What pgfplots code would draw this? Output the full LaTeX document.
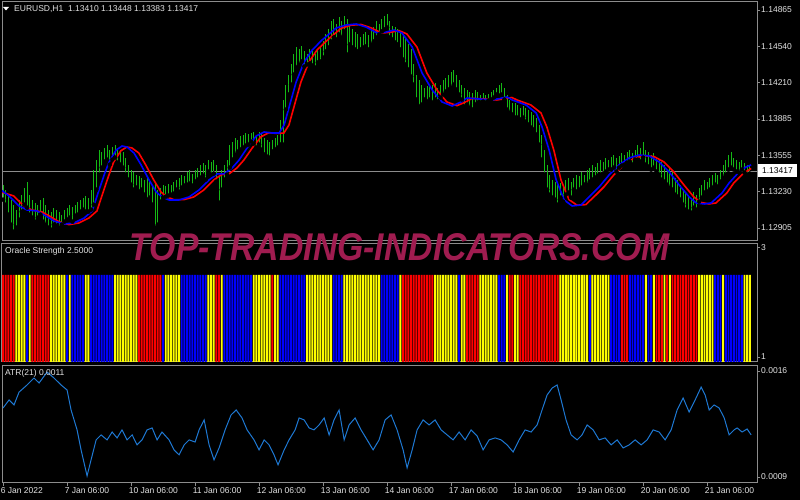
\documentclass[border=0pt]{standalone}
\usepackage{fontspec}
\setmainfont{Liberation Sans}
\usepackage{pgfplots}
\usepackage{pgfplotstable}
\pgfplotsset{compat=1.18}

\definecolor{mtgray}{RGB}{140,140,140}
\definecolor{mttext}{RGB}{228,228,228}
\definecolor{mtgreen}{RGB}{20,185,20}
\definecolor{mtred}{RGB}{255,0,0}
\definecolor{mtblue}{RGB}{0,0,255}
\definecolor{mtyellow}{RGB}{255,255,0}
\definecolor{atrblue}{RGB}{30,120,210}
\definecolor{wmark}{RGB}{160,28,80}

% EURUSD H1 bars: index, low, high
\pgfplotstableread{
i lo hi
0 1.13160 1.13295
1 1.13115 1.13250
2 1.13025 1.13205
3 1.12935 1.13160
4 1.12872 1.13115
5 1.12908 1.13070
6 1.12980 1.13160
7 1.13052 1.13205
8 1.13115 1.13268
9 1.13088 1.13322
10 1.13025 1.13205
11 1.12998 1.13160
12 1.12962 1.13133
13 1.12998 1.13115
14 1.13025 1.13160
15 1.12962 1.13178
16 1.12935 1.13115
17 1.12908 1.13070
18 1.12890 1.13052
19 1.12935 1.13088
20 1.12926 1.13070
21 1.12908 1.13052
22 1.12935 1.13025
23 1.12962 1.13070
24 1.12980 1.13088
25 1.12998 1.13115
26 1.12962 1.13097
27 1.13016 1.13115
28 1.13025 1.13142
29 1.13052 1.13160
30 1.13070 1.13178
31 1.13052 1.13196
32 1.13052 1.13178
33 1.13070 1.13250
34 1.13115 1.13430
35 1.13250 1.13520
36 1.13385 1.13610
37 1.13448 1.13592
38 1.13502 1.13628
39 1.13520 1.13655
40 1.13475 1.13610
41 1.13520 1.13637
42 1.13538 1.13655
43 1.13493 1.13628
44 1.13475 1.13610
45 1.13448 1.13592
46 1.13385 1.13538
47 1.13340 1.13475
48 1.13295 1.13430
49 1.13250 1.13412
50 1.13268 1.13385
51 1.13232 1.13376
52 1.13250 1.13358
53 1.13205 1.13340
54 1.13160 1.13358
55 1.13178 1.13322
56 1.13115 1.13295
57 1.12908 1.13313
58 1.12935 1.13250
59 1.13142 1.13268
60 1.13178 1.13295
61 1.13187 1.13286
62 1.13196 1.13304
63 1.13205 1.13295
64 1.13214 1.13322
65 1.13250 1.13340
66 1.13232 1.13358
67 1.13268 1.13385
68 1.13286 1.13376
69 1.13295 1.13412
70 1.13304 1.13430
71 1.13286 1.13394
72 1.13322 1.13430
73 1.13340 1.13448
74 1.13358 1.13475
75 1.13376 1.13493
76 1.13340 1.13475
77 1.13412 1.13520
78 1.13385 1.13502
79 1.13394 1.13520
80 1.13322 1.13475
81 1.13133 1.13385
82 1.13250 1.13430
83 1.13340 1.13475
84 1.13385 1.13520
85 1.13448 1.13655
86 1.13520 1.13682
87 1.13565 1.13718
88 1.13592 1.13700
89 1.13610 1.13736
90 1.13628 1.13745
91 1.13646 1.13763
92 1.13655 1.13754
93 1.13682 1.13763
94 1.13664 1.13772
95 1.13628 1.13745
96 1.13655 1.13772
97 1.13610 1.13754
98 1.13565 1.13718
99 1.13547 1.13700
100 1.13538 1.13682
101 1.13592 1.13700
102 1.13610 1.13718
103 1.13628 1.13745
104 1.13655 1.13880
105 1.13655 1.14060
106 1.13970 1.14195
107 1.14105 1.14285
108 1.14195 1.14375
109 1.14285 1.14465
110 1.14348 1.14528
111 1.14375 1.14510
112 1.14402 1.14537
113 1.14357 1.14492
114 1.14375 1.14465
115 1.14384 1.14510
116 1.14366 1.14492
117 1.14348 1.14465
118 1.14393 1.14510
119 1.14402 1.14528
120 1.14438 1.14582
121 1.14492 1.14645
122 1.14528 1.14690
123 1.14582 1.14762
124 1.14618 1.14780
125 1.14600 1.14735
126 1.14645 1.14798
127 1.14618 1.14762
128 1.14672 1.14807
129 1.14465 1.14780
130 1.14555 1.14735
131 1.14528 1.14690
132 1.14510 1.14663
133 1.14492 1.14645
134 1.14510 1.14618
135 1.14528 1.14645
136 1.14537 1.14663
137 1.14510 1.14636
138 1.14555 1.14672
139 1.14582 1.14708
140 1.14618 1.14762
141 1.14645 1.14735
142 1.14672 1.14780
143 1.14690 1.14807
144 1.14708 1.14825
145 1.14618 1.14762
146 1.14600 1.14717
147 1.14573 1.14708
148 1.14555 1.14690
149 1.14510 1.14663
150 1.14420 1.14636
151 1.14375 1.14600
152 1.14330 1.14555
153 1.14267 1.14510
154 1.14195 1.14375
155 1.14060 1.14285
156 1.13997 1.14240
157 1.14015 1.14195
158 1.14060 1.14168
159 1.14042 1.14186
160 1.14060 1.14177
161 1.14033 1.14195
162 1.14060 1.14213
163 1.14042 1.14168
164 1.14078 1.14195
165 1.14105 1.14240
166 1.14132 1.14258
167 1.14150 1.14285
168 1.14168 1.14312
169 1.14195 1.14330
170 1.14150 1.14285
171 1.14105 1.14240
172 1.14060 1.14195
173 1.13997 1.14168
174 1.14015 1.14150
175 1.13988 1.14132
176 1.13970 1.14123
177 1.14015 1.14150
178 1.14033 1.14132
179 1.14033 1.14105
180 1.14042 1.14123
181 1.14033 1.14105
182 1.14051 1.14114
183 1.14060 1.14132
184 1.14078 1.14150
185 1.14105 1.14168
186 1.14096 1.14195
187 1.14105 1.14213
188 1.14060 1.14168
189 1.13970 1.14105
190 1.13943 1.14060
191 1.13925 1.14033
192 1.13898 1.14033
193 1.13898 1.14015
194 1.13880 1.13988
195 1.13898 1.14006
196 1.13862 1.13988
197 1.13835 1.13970
198 1.13808 1.13952
199 1.13790 1.13925
200 1.13745 1.13898
201 1.13655 1.13835
202 1.13520 1.13745
203 1.13385 1.13610
204 1.13250 1.13475
205 1.13205 1.13385
206 1.13178 1.13340
207 1.13160 1.13322
208 1.13115 1.13295
209 1.13178 1.13313
210 1.13142 1.13295
211 1.13205 1.13340
212 1.13223 1.13358
213 1.13178 1.13322
214 1.13250 1.13358
215 1.13232 1.13385
216 1.13250 1.13376
217 1.13268 1.13412
218 1.13295 1.13385
219 1.13295 1.13430
220 1.13322 1.13448
221 1.13340 1.13475
222 1.13358 1.13457
223 1.13376 1.13493
224 1.13385 1.13520
225 1.13394 1.13502
226 1.13412 1.13538
227 1.13430 1.13520
228 1.13430 1.13547
229 1.13448 1.13565
230 1.13412 1.13538
231 1.13448 1.13556
232 1.13466 1.13583
233 1.13475 1.13565
234 1.13493 1.13592
235 1.13502 1.13610
236 1.13475 1.13583
237 1.13520 1.13610
238 1.13520 1.13655
239 1.13502 1.13628
240 1.13538 1.13682
241 1.13475 1.13610
242 1.13457 1.13592
243 1.13430 1.13565
244 1.13448 1.13583
245 1.13412 1.13538
246 1.13385 1.13520
247 1.13340 1.13502
248 1.13322 1.13475
249 1.13295 1.13430
250 1.13268 1.13448
251 1.13250 1.13412
252 1.13205 1.13358
253 1.13187 1.13340
254 1.13160 1.13295
255 1.13115 1.13250
256 1.13070 1.13223
257 1.13052 1.13205
258 1.13043 1.13178
259 1.13088 1.13232
260 1.13070 1.13205
261 1.13142 1.13268
262 1.13178 1.13295
263 1.13223 1.13340
264 1.13232 1.13322
265 1.13250 1.13358
266 1.13268 1.13385
267 1.13295 1.13403
268 1.13277 1.13385
269 1.13322 1.13430
270 1.13358 1.13475
271 1.13385 1.13520
272 1.13430 1.13565
273 1.13448 1.13592
274 1.13430 1.13538
275 1.13412 1.13520
276 1.13403 1.13502
277 1.13430 1.13520
278 1.13403 1.13493
279 1.13385 1.13475
280 1.13394 1.13466
}\pricebars

\pgfplotsset{
  mtpanel/.style={
    scale only axis, width=755pt,
    xmin=-0.4, xmax=282.7,
    anchor=south west,
    axis line style={mtgray, line width=1pt},
    ticklabel style={mttext, font=\fontsize{8.5}{10}\selectfont},
    ytick pos=right, yticklabel pos=right,
    yticklabel style={anchor=west, inner sep=1pt},
    tick align=outside, major tick length=3pt,
    tick style={mtgray, line width=0.8pt},
    xtick=\empty, scaled y ticks=false,
  },
}

\begin{document}
\begin{tikzpicture}
\fill[black] (0pt,0pt) rectangle (800pt,500pt);
\useasboundingbox (0pt,0pt) rectangle (800pt,500pt);

% ---- price panel
\begin{axis}[mtpanel, at={(2pt,259pt)}, height=239pt,
    ymin=1.12788, ymax=1.14937,
    ytick={1.12905,1.13230,1.13555,1.13885,1.14210,1.14540,1.14865},
    yticklabels={1.12905,1.13230,1.13555,1.13885,1.14210,1.14540,1.14865}]
\addplot[mtgray, line width=0.8pt] coordinates {(-0.4,1.13417) (282.7,1.13417)};
\addplot[only marks, mark=none,
    error bars/.cd, y dir=plus, y explicit, error mark=none,
    error bar style={draw=mtgreen, line width=1pt}]
  table[x=i, y=lo, y error expr=\thisrow{hi}-\thisrow{lo}] {\pricebars};
\addplot[mtred, line width=1.6pt] coordinates {
(-0.75,1.13229) (4,1.13193) (7.8,1.13103) (10.8,1.13067) (14.5,1.13050) (17.2,1.13015)
(20.9,1.12962) (24.7,1.12935) (28.4,1.12950) (32.2,1.12995) (35.2,1.13058) (37.8,1.13247)
(39.7,1.13382) (41.5,1.13499) (44.2,1.13600) (46.4,1.13633) (48.3,1.13625) (50.9,1.13579)
(53.5,1.13472) (56.5,1.13337) (59.2,1.13229) (61.4,1.13184) (64,1.13160) (67.8,1.13160)
(71.5,1.13184) (75.3,1.13247) (79,1.13337) (82,1.13385) (84.7,1.13391) (87.7,1.13445)
(90.3,1.13516) (93.3,1.13620) (96.7,1.13725) (99.7,1.13762) (102.7,1.13755) (105.3,1.13759)
(107.2,1.13831) (109.8,1.14056) (111.7,1.14218) (114.7,1.14398) (117.7,1.14505) (121.4,1.14590)
(126.7,1.14700) (130.4,1.14728) (134.2,1.14735) (137.9,1.14705) (142,1.14658) (145.4,1.14665)
(148.4,1.14680) (151.4,1.14650) (155.2,1.14532) (158.9,1.14299) (162.7,1.14146) (166.4,1.14038)
(170.2,1.14005) (173.5,1.14038) (175.8,1.14070) (180.3,1.14065) (185.2,1.14056) (190.8,1.14078)
(192.7,1.14056) (197.9,1.14011) (201.7,1.13939) (203.9,1.13813) (206.5,1.13606) (209.2,1.13337)
(212.2,1.13160) (215.2,1.13110) (218.5,1.13115) (222.3,1.13202) (225.3,1.13274) (229,1.13382)
(232.8,1.13472) (236.5,1.13530) (240.3,1.13555) (244,1.13548) (247.8,1.13499) (251.5,1.13409)
(255.3,1.13292) (259,1.13184) (261.7,1.13135) (264.7,1.13121) (267.3,1.13130) (271.4,1.13220)
(274,1.13310) (277.8,1.13400) (280.5,1.13440)
};
\addplot[mtblue, line width=1.6pt] coordinates {
(-0.75,1.13247) (2.25,1.13193) (6,1.13103) (9,1.13067) (12.75,1.13058) (15.4,1.13022)
(19.1,1.12968) (22.9,1.12941) (26.6,1.12950) (30.4,1.12995) (33.4,1.13058) (36,1.13247)
(37.9,1.13382) (39.75,1.13499) (42.4,1.13606) (44.6,1.13642) (46.5,1.13633) (49.1,1.13579)
(51.75,1.13472) (54.75,1.13337) (57.4,1.13229) (59.6,1.13184) (62.25,1.13157) (66,1.13157)
(69.75,1.13184) (73.5,1.13247) (77.25,1.13337) (80.25,1.13391) (82.9,1.13391) (85.9,1.13445)
(88.5,1.13516) (91.5,1.13624) (94.9,1.13732) (97.9,1.13768) (100.9,1.13759) (103.5,1.13759)
(105.4,1.13831) (108,1.14056) (109.9,1.14218) (112.9,1.14398) (115.9,1.14505) (119.6,1.14595)
(124.9,1.14703) (128.6,1.14730) (132.4,1.14739) (136.1,1.14712) (140.25,1.14658) (143.6,1.14667)
(146.6,1.14685) (149.6,1.14658) (153.4,1.14532) (157.1,1.14299) (160.9,1.14146) (164.6,1.14038)
(168.4,1.14002) (171.75,1.14038) (174,1.14074) (178.5,1.14065) (183.4,1.14056) (189,1.14083)
(190.9,1.14056) (196.1,1.14011) (199.9,1.13939) (202.1,1.13813) (204.75,1.13606) (207.4,1.13337)
(210.4,1.13157) (213.4,1.13103) (216.75,1.13112) (220.5,1.13202) (223.5,1.13274) (227.25,1.13382)
(231,1.13472) (234.75,1.13535) (238.5,1.13561) (242.25,1.13553) (246,1.13499) (249.75,1.13409)
(253.5,1.13292) (257.25,1.13184) (259.9,1.13130) (262.9,1.13121) (265.5,1.13130) (269.6,1.13220)
(272.25,1.13310) (276,1.13409) (278.6,1.13454) (280.5,1.13472)
};
\end{axis}

% ---- Oracle Strength histogram
\begin{axis}[mtpanel, at={(2pt,138pt)}, height=118.5pt,
    ymin=0.91, ymax=3.07, ytick={1,3}, yticklabels={1,3}]
\addplot[ybar, bar width=0.72, bar shift=0pt, fill=mtred, draw=none] coordinates {
(0,2.5) (1,2.5) (2,2.5) (3,2.5) (4,2.5) (11,2.5) (12,2.5) (13,2.5) (14,2.5) (15,2.5) (16,2.5)
(17,2.5) (51,2.5) (52,2.5) (53,2.5) (54,2.5) (55,2.5) (56,2.5) (57,2.5) (58,2.5) (59,2.5)
(80,2.5) (81,2.5) (101,2.5) (150,2.5) (151,2.5) (152,2.5) (153,2.5) (154,2.5) (155,2.5)
(156,2.5) (157,2.5) (158,2.5) (159,2.5) (160,2.5) (161,2.5) (174,2.5) (175,2.5) (176,2.5)
(177,2.5) (178,2.5) (190,2.5) (191,2.5) (194,2.5) (195,2.5) (196,2.5) (197,2.5) (198,2.5)
(199,2.5) (200,2.5) (201,2.5) (202,2.5) (203,2.5) (204,2.5) (205,2.5) (206,2.5) (207,2.5)
(208,2.5) (232,2.5) (233,2.5) (234,2.5) (245,2.5) (246,2.5) (247,2.5) (249,2.5) (251,2.5)
(252,2.5) (253,2.5) (254,2.5) (255,2.5) (256,2.5) (257,2.5) (258,2.5) (259,2.5) (260,2.5)
};
\addplot[ybar, bar width=0.72, bar shift=0pt, fill=mtyellow, draw=none] coordinates {
(5,2.5) (6,2.5) (7,2.5) (8,2.5) (10,2.5) (18,2.5) (19,2.5) (20,2.5) (21,2.5) (22,2.5) (23,2.5)
(25,2.5) (31,2.5) (32,2.5) (42,2.5) (43,2.5) (44,2.5) (45,2.5) (46,2.5) (47,2.5) (48,2.5)
(49,2.5) (50,2.5) (61,2.5) (62,2.5) (63,2.5) (64,2.5) (65,2.5) (66,2.5) (77,2.5) (78,2.5)
(79,2.5) (82,2.5) (94,2.5) (95,2.5) (96,2.5) (97,2.5) (98,2.5) (99,2.5) (100,2.5) (102,2.5)
(103,2.5) (114,2.5) (115,2.5) (116,2.5) (117,2.5) (118,2.5) (119,2.5) (120,2.5) (121,2.5)
(122,2.5) (123,2.5) (128,2.5) (129,2.5) (130,2.5) (131,2.5) (132,2.5) (133,2.5) (134,2.5)
(135,2.5) (136,2.5) (137,2.5) (138,2.5) (139,2.5) (140,2.5) (141,2.5) (149,2.5) (162,2.5)
(163,2.5) (164,2.5) (165,2.5) (166,2.5) (167,2.5) (168,2.5) (169,2.5) (170,2.5) (172,2.5)
(173,2.5) (179,2.5) (180,2.5) (181,2.5) (182,2.5) (183,2.5) (184,2.5) (185,2.5) (189,2.5)
(192,2.5) (193,2.5) (209,2.5) (210,2.5) (211,2.5) (212,2.5) (213,2.5) (214,2.5) (215,2.5)
(216,2.5) (217,2.5) (218,2.5) (219,2.5) (221,2.5) (222,2.5) (223,2.5) (224,2.5) (225,2.5)
(226,2.5) (227,2.5) (241,2.5) (244,2.5) (248,2.5) (250,2.5) (261,2.5) (262,2.5) (263,2.5)
(264,2.5) (265,2.5) (266,2.5) (270,2.5) (278,2.5) (279,2.5) (280,2.5)
};
\addplot[ybar, bar width=0.72, bar shift=0pt, fill=mtblue, draw=none] coordinates {
(9,2.5) (24,2.5) (26,2.5) (27,2.5) (28,2.5) (29,2.5) (30,2.5) (33,2.5) (34,2.5) (35,2.5)
(36,2.5) (37,2.5) (38,2.5) (39,2.5) (40,2.5) (41,2.5) (60,2.5) (67,2.5) (68,2.5) (69,2.5)
(70,2.5) (71,2.5) (72,2.5) (73,2.5) (74,2.5) (75,2.5) (76,2.5) (83,2.5) (84,2.5) (85,2.5)
(86,2.5) (87,2.5) (88,2.5) (89,2.5) (90,2.5) (91,2.5) (92,2.5) (93,2.5) (104,2.5) (105,2.5)
(106,2.5) (107,2.5) (108,2.5) (109,2.5) (110,2.5) (111,2.5) (112,2.5) (113,2.5) (124,2.5)
(125,2.5) (126,2.5) (127,2.5) (142,2.5) (143,2.5) (144,2.5) (145,2.5) (146,2.5) (147,2.5)
(148,2.5) (171,2.5) (186,2.5) (187,2.5) (188,2.5) (220,2.5) (228,2.5) (229,2.5) (230,2.5)
(231,2.5) (235,2.5) (236,2.5) (237,2.5) (238,2.5) (239,2.5) (240,2.5) (242,2.5) (243,2.5)
(267,2.5) (268,2.5) (269,2.5) (271,2.5) (272,2.5) (273,2.5) (274,2.5) (275,2.5) (276,2.5)
(277,2.5)
};
\end{axis}

% ---- ATR(21)
\begin{axis}[mtpanel, at={(2pt,17pt)}, height=118pt,
    ymin=0.00086, ymax=0.00164,
    ytick={0.0009,0.0016}, yticklabels={0.0009,0.0016},
    xtick={0,24,48,72,96,120,144,168,192,216,240,264},
    xticklabels={6 Jan 2022,7 Jan 06:00,10 Jan 06:00,11 Jan 06:00,12 Jan 06:00,13 Jan 06:00,
      14 Jan 06:00,17 Jan 06:00,18 Jan 06:00,19 Jan 06:00,20 Jan 06:00,21 Jan 06:00},
    xtick pos=bottom,
    xticklabel style={anchor=north west, xshift=-3.5pt, inner sep=1pt}]
\addplot[atrblue, line width=1pt] coordinates {
(0,0.001356) (2.25,0.001409) (4.1,0.001376) (6,0.001461) (9,0.001508) (11.6,0.001554)
(13.5,0.001521) (16.5,0.001593) (19.1,0.001554) (21.75,0.001508) (24,0.001475) (25.5,0.001343)
(27.75,0.001211) (29.25,0.001079) (31.5,0.000907) (33,0.001013) (34.9,0.001145) (36.75,0.001178)
(39,0.001145) (40.9,0.001197) (42.75,0.001158) (44.6,0.001211) (46.5,0.001145) (48.4,0.001178)
(50.25,0.001112) (52.1,0.001145) (54,0.001211) (55.9,0.001224) (57.75,0.001145) (59.6,0.001197)
(62.25,0.001145) (64.1,0.001079) (66,0.001046) (67.9,0.001112) (69.75,0.001145) (72,0.001131)
(73.5,0.001211) (75.4,0.001277) (77.25,0.001112) (79.1,0.001013) (81,0.001092) (83.25,0.001211)
(85.5,0.001310) (87.4,0.001343) (89.6,0.001290) (91.5,0.001211) (94.1,0.001145) (96,0.001079)
(97.9,0.001145) (99.75,0.001112) (101.6,0.001046) (103.1,0.000980) (105.4,0.001079) (107.25,0.001145)
(109.5,0.001211) (111,0.001290) (112.9,0.001277) (114.75,0.001224) (116.6,0.001211) (118.5,0.001244)
(120.4,0.001290) (122.25,0.001178) (124.1,0.001277) (126,0.001343) (127.9,0.001145) (129.75,0.001244)
(132,0.001290) (134.25,0.001211) (136.5,0.001145) (138.75,0.001079) (141,0.001145) (143.25,0.001277)
(145.5,0.001310) (147.75,0.001211) (150,0.001079) (151.5,0.000960) (153.4,0.001079) (155.25,0.001211)
(157.5,0.001277) (159.75,0.001244) (162,0.001277) (164.25,0.001211) (166.5,0.001178) (168.75,0.001145)
(171,0.001197) (173.25,0.001145) (175.5,0.001211) (177.75,0.001171) (180,0.001079) (182.25,0.001145)
(184.5,0.001158) (186.75,0.001145) (189,0.001112) (191.25,0.001065) (193.5,0.001145) (195.75,0.001211)
(198,0.001197) (200.25,0.001244) (202.1,0.001343) (204,0.001442) (205.9,0.001488) (207.75,0.001508)
(209.25,0.001409) (211.1,0.001277) (213,0.001178) (215.25,0.001145) (217.1,0.001178) (219,0.001244)
(221.25,0.001211) (223.5,0.001145) (225.75,0.001158) (228,0.001112) (230.25,0.001145) (232.5,0.001092)
(234.75,0.001112) (237,0.001145) (239.25,0.001112) (241.5,0.001145) (243.75,0.001211) (246,0.001197)
(248.25,0.001145) (250.5,0.001211) (252.75,0.001343) (255,0.001422) (257.25,0.001329) (259.5,0.001409)
(261.75,0.001494) (263.25,0.001442) (264.75,0.001343) (266.6,0.001376) (268.5,0.001356) (270.4,0.001290)
(272.25,0.001178) (274.1,0.001211) (275.25,0.001224) (277.1,0.001197) (279,0.001217) (280.5,0.001178)
};
\end{axis}

% ---- panel captions and current price box
\fill[white] (3pt,493pt) -- (9pt,493pt) -- (6pt,489.5pt) -- cycle;
\node[anchor=west, text=mttext, inner sep=0pt, font=\fontsize{8.5}{10}\selectfont]
  at (14pt,490.5pt) {EURUSD,H1\ \ 1.13410 1.13448 1.13383 1.13417};
\node[anchor=west, text=mttext, inner sep=0pt, font=\fontsize{8.5}{10}\selectfont]
  at (5pt,248.5pt) {Oracle Strength 2.5000};
\node[anchor=west, text=mttext, inner sep=0pt, font=\fontsize{8.5}{10}\selectfont]
  at (5pt,127pt) {ATR(21) 0.0011};
\node[fill=white, text=black, inner sep=0pt, minimum width=39pt, minimum height=13pt,
  font=\fontsize{8.5}{10}\selectfont] at (777.5pt,329pt) {1.13417};

% ---- watermark
\node[inner sep=0pt, text=wmark] at (400pt,253pt)
  {\resizebox{540pt}{27pt}{\bfseries\itshape TOP-TRADING-INDICATORS.COM}};
\end{tikzpicture}
\end{document}
